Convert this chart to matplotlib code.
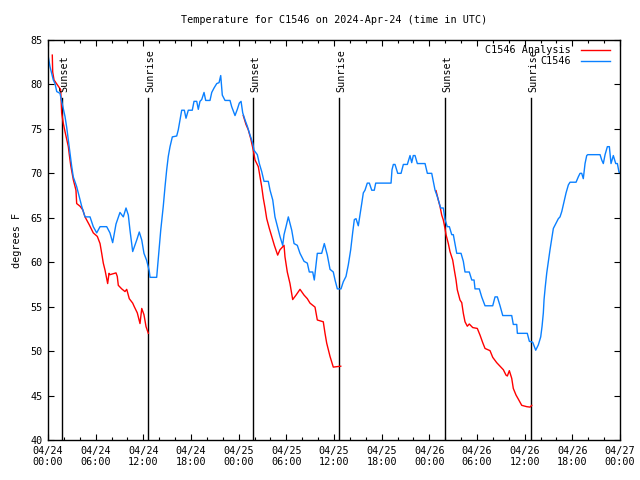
import matplotlib
matplotlib.use('Agg')
import matplotlib.pyplot as plt
import numpy as np

# hours since 2024-04-24 00:00 UTC, temperature in degrees F
obs_hours = [0.04, 0.25, 0.67, 0.88, 1.10, 1.51, 1.72, 2.14, 2.35, 2.56, 2.77, 2.98, 3.18, 3.61,
             3.81, 4.24, 4.66, 5.29, 5.70, 6.13, 6.55, 7.39, 7.80, 8.14, 8.56, 9.06, 9.48, 9.82,
             10.11, 10.32, 10.66, 11.17, 11.49, 11.80, 12.08, 12.42, 12.75, 12.84, 13.68, 13.88,
             14.19, 14.51, 14.73, 14.94, 15.14, 15.36, 15.57, 15.65, 16.20, 16.40, 16.62, 16.83,
             17.16, 17.37, 17.66, 18.16, 18.38, 18.72, 18.92, 19.13, 19.35, 19.64, 19.85, 20.39,
             20.61, 20.90, 21.24, 21.53, 21.74, 21.94, 22.28, 22.91, 23.12, 23.54, 23.83, 24.08,
             24.30, 24.51, 24.80, 25.09, 25.43, 25.77, 25.93, 26.35, 26.60, 26.90, 27.19, 27.73,
             27.95, 28.29, 28.57, 28.99, 29.20, 29.54, 29.71, 29.96, 30.25, 30.68, 30.97, 31.38,
             31.72, 32.23, 32.64, 32.89, 33.32, 33.52, 33.90, 34.45, 34.78, 35.16, 35.50, 35.91,
             36.13, 36.42, 36.88, 37.17, 37.51, 37.80, 38.10, 38.36, 38.56, 38.77, 39.06, 39.27,
             39.49, 39.69, 39.90, 40.19, 40.45, 40.75, 41.07, 41.25, 43.18, 43.30, 43.47, 43.68,
             44.02, 44.44, 44.73, 45.23, 45.57, 45.78, 45.98, 46.20, 46.49, 47.46, 47.75, 48.30,
             48.50, 48.72, 49.00, 49.43, 49.76, 49.97, 50.26, 50.52, 50.82, 51.02, 51.45, 51.99,
             52.28, 52.49, 53.03, 53.34, 53.63, 53.75, 54.29, 54.59, 55.01, 55.98, 56.27, 56.56,
             56.90, 57.24, 58.37, 58.57, 59.00, 59.08, 60.33, 60.59, 61.01, 61.39, 61.72, 62.02,
             62.19, 62.35, 62.44, 62.60, 62.78, 62.98, 63.19, 63.41, 63.61, 63.95, 64.24, 64.45,
             64.67, 64.95, 65.21, 65.50, 65.71, 66.47, 66.75, 66.97, 67.18, 67.38, 67.60, 67.81,
             67.94, 69.49, 69.70, 69.90, 70.12, 70.41, 70.66, 70.87, 71.16, 71.46, 71.67, 71.88,
             72.0]
obs_temp = [83.1, 82.0, 80.5, 80.1, 79.2, 79.0, 78.1, 76.4, 75.2, 73.7, 72.3, 70.8, 69.6, 68.5,
            67.8, 66.3, 65.1, 65.1, 64.0, 63.3, 64.0, 64.0, 63.3, 62.2, 64.3, 65.6, 65.1, 66.1,
            65.3, 63.6, 61.2, 62.5, 63.4, 62.5, 61.0, 60.2, 59.0, 58.3, 58.3, 60.4,
            63.6, 66.3, 68.5, 70.4, 71.9, 73.0, 73.8, 74.1, 74.2, 74.9, 76.0, 77.1,
            77.1, 76.2, 77.1, 77.1, 78.1, 78.1, 77.2, 78.1, 78.3, 79.1, 78.2, 78.2,
            79.1, 79.6, 80.1, 80.2, 81.0, 78.8, 78.2, 78.2, 77.5, 76.5, 77.2, 77.9,
            78.1, 76.8, 76.0, 75.3, 74.3, 73.4, 72.6, 72.1, 71.1, 70.2, 69.1, 69.1,
            68.1, 67.0, 65.1, 63.6, 62.9, 61.9, 63.1, 64.0, 65.1, 63.6, 62.1, 61.9,
            61.0, 60.1, 59.9, 58.9, 58.9, 58.0, 61.0, 61.0, 62.1, 60.8, 59.2, 58.9,
            58.0, 57.0, 57.0, 57.8, 58.4, 59.7, 61.4, 63.4, 64.8, 64.9, 64.1, 65.3,
            66.6, 67.8, 68.1, 68.9, 68.9, 68.1, 68.1, 68.9, 68.9, 70.4, 71.0, 71.0,
            70.0, 70.0, 71.0, 71.0, 72.0, 71.2, 72.0, 72.0, 71.1, 71.1, 70.0, 70.0,
            69.1, 68.1, 67.4, 66.1, 66.1, 64.8, 64.0, 64.0, 63.1, 63.1, 61.0, 61.0,
            60.1, 58.9, 58.9, 58.0, 58.0, 57.0, 57.0, 56.1, 55.1, 55.1, 56.1, 56.1,
            55.1, 54.0, 54.0, 53.0, 53.0, 52.0, 52.0, 51.1, 51.0, 50.1, 50.7, 51.6,
            52.8, 54.3, 55.8, 57.3, 58.8, 60.1, 61.4, 62.7, 63.8, 64.4, 64.9, 65.1,
            65.7, 66.8, 67.8, 68.7, 69.0, 69.0, 69.6, 70.0, 70.0, 69.4, 71.1, 72.0,
            72.1, 72.1, 71.5, 71.1, 72.1, 73.0, 73.0, 71.1, 72.0, 71.1, 71.1, 70.1,
            70.1]

ana1_hours = [0.54, 0.59, 0.76, 1.30, 1.60, 1.72, 1.93, 2.14, 2.56, 2.68, 2.86, 3.18, 3.52, 3.61,
              4.03, 4.37, 4.66, 5.20, 5.70, 6.21, 6.55, 6.76, 6.96, 7.18, 7.51, 7.68, 7.80, 8.56,
              8.72, 8.85, 9.28, 9.69, 9.91, 10.23, 10.66, 10.86, 11.24, 11.58, 11.80, 12.08,
              12.34, 12.63]
ana1_temp = [83.3, 81.4, 80.5, 79.8, 79.4, 76.8, 75.6, 74.7, 73.0, 72.1, 70.9, 69.3, 68.1, 66.6,
             66.3, 65.9, 65.1, 64.2, 63.3, 62.9, 62.1, 61.0, 59.9, 59.1, 57.6, 58.75, 58.6, 58.8,
             58.4, 57.4, 57.0, 56.7, 56.95, 55.9, 55.4, 55.0, 54.3, 53.1, 54.8, 54.1,
             52.75, 52.0]

ana2_hours = [24.58, 24.92, 25.21, 25.52, 25.84, 26.06, 26.47, 26.69, 26.90, 27.10, 27.32, 27.53,
              27.86, 28.16, 28.49, 28.91, 29.20, 29.71, 29.83, 30.12, 30.46, 30.80, 31.22, 31.72,
              32.23, 32.64, 32.98, 33.61, 33.90, 34.65, 34.87, 35.08, 35.50, 35.91, 36.34, 36.85]
ana2_temp = [76.5, 75.5, 74.9, 73.9, 72.6, 71.5, 70.75, 69.6, 68.5, 67.2, 66.1, 64.9,
             63.8, 62.9, 61.9, 60.8, 61.4, 61.9, 60.6, 58.9, 57.6, 55.8, 56.3, 56.95,
             56.3, 55.9, 55.4, 54.95, 53.5, 53.3, 52.0, 50.9, 49.4, 48.2, 48.25, 48.3]

ana3_hours = [48.84, 49.13, 49.35, 49.56, 49.76, 49.97, 50.10, 50.39, 50.60, 50.94, 51.15, 51.36,
              51.52, 51.86, 52.08, 52.28, 52.49, 52.78, 53.03, 53.46, 54.04, 54.38, 54.72, 55.01,
              55.64, 55.98, 56.48, 56.90, 57.32, 57.65, 57.82, 58.07, 58.37, 58.57, 58.91, 59.20,
              59.63, 60.26, 60.68, 60.89]
ana3_temp = [68.05, 67.0, 66.25, 65.3, 64.75, 63.8, 63.1, 62.1, 61.2, 60.25, 59.1, 58.0,
             56.9, 55.75, 55.45, 54.25, 53.3, 52.8, 53.05, 52.65, 52.55, 51.8, 50.95, 50.3,
             50.05, 49.3, 48.7, 48.3, 47.9, 47.3, 47.2, 47.8, 46.94, 45.8, 45.06, 44.6,
             43.9, 43.75, 43.7, 43.9]

sun_hours = [1.7, 12.62, 25.84, 36.67, 50.0, 60.84]
sun_names = ['Sunset', 'Sunrise', 'Sunset', 'Sunrise', 'Sunset', 'Sunrise']

tick_hours = list(range(0, 73, 6))
tick_labels = ['04/24\n00:00', '04/24\n06:00', '04/24\n12:00', '04/24\n18:00',
               '04/25\n00:00', '04/25\n06:00', '04/25\n12:00', '04/25\n18:00',
               '04/26\n00:00', '04/26\n06:00', '04/26\n12:00', '04/26\n18:00',
               '04/27\n00:00']

red = '#ff0000'
blue = '#0a80ff'
mono = 'DejaVu Sans Mono'
fs = 7.3

fig = plt.figure(figsize=(6.4, 4.8), dpi=100)
ax = fig.add_axes([48/640, 40/480, 572/640, 400/480])

for h, name in zip(sun_hours, sun_names):
    ax.plot([h, h], [40, 78.5], color='black', lw=1.0)
    ax.text(h + 0.3, 79.2, name, rotation=90, ha='center', va='bottom',
            fontsize=fs, family=mono)

ax.plot(ana1_hours, ana1_temp, color=red, lw=1.0)
ax.plot(ana2_hours, ana2_temp, color=red, lw=1.0)
ax.plot(ana3_hours, ana3_temp, color=red, lw=1.0)
ax.plot(obs_hours, obs_temp, color=blue, lw=1.0)

ax.set_xlim(0, 72)
ax.set_ylim(40, 85)
ax.set_xticks(tick_hours)
ax.set_xticklabels(tick_labels, family=mono, fontsize=fs)
ax.set_xticks(range(0, 73, 2), minor=True)
ax.set_yticks(range(40, 86, 5))
ax.set_yticklabels([str(v) for v in range(40, 86, 5)], family=mono, fontsize=fs)
ax.tick_params(which='both', direction='in', top=True, right=True, width=0.8, pad=4)
ax.tick_params(which='major', length=4.5)
ax.tick_params(which='minor', length=2.3)
for s in ax.spines.values():
    s.set_linewidth(1.0)

ax.set_ylabel('degrees F', family=mono, fontsize=fs, labelpad=6)
fig.text(334/640, 1 - 20/480, 'Temperature for C1546 on 2024-Apr-24 (time in UTC)',
         ha='center', va='center', family=mono, fontsize=fs)

# gnuplot-style key: text right-aligned, sample line after it
for i, (lab, col) in enumerate([('C1546 Analysis', red), ('C1546', blue)]):
    yk = 0.975 - i * 0.0275
    ax.text(0.914, yk, lab, transform=ax.transAxes, ha='right', va='center',
            family=mono, fontsize=fs)
    ax.plot([0.932, 0.983], [yk, yk], transform=ax.transAxes, color=col, lw=1.0)

fig.savefig('out.png', dpi=100, facecolor='white')
